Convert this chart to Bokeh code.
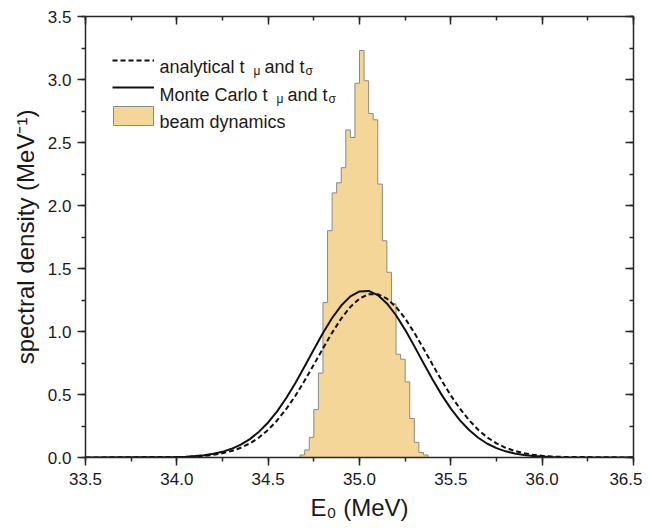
from bokeh.plotting import figure
from bokeh.models import (Range1d, LinearAxis, SingleIntervalTicker, NumeralTickFormatter,
                          Legend, LegendItem, Label, BoxAnnotation)
from bokeh.embed import file_html
from bokeh.resources import INLINE

# ---------------- data ----------------
# beam dynamics histogram: left bin edges (MeV), bin width, spectral density (MeV^-1)
bin_left = [34.675, 34.700, 34.725, 34.750, 34.775, 34.800, 34.825, 34.850, 34.875, 34.900,
            34.925, 34.950, 34.975, 35.000, 35.025, 35.050, 35.075, 35.100, 35.125, 35.150,
            35.175, 35.200, 35.225, 35.250, 35.275, 35.300, 35.325, 35.350]
bin_width = 0.025
hist_density = [0.02, 0.06, 0.16, 0.38, 0.67, 1.23, 1.80, 2.10, 2.18, 2.30,
                2.60, 2.54, 2.97, 3.23, 2.99, 2.73, 2.68, 2.17, 1.72, 1.47,
                1.22, 0.82, 0.78, 0.60, 0.31, 0.12, 0.04, 0.02]

# Monte Carlo t_mu and t_sigma (solid)
mc_energy = [33.50, 34.00, 34.05, 34.10, 34.15, 34.20, 34.25, 34.30, 34.35, 34.40, 34.45,
             34.50, 34.55, 34.60, 34.65, 34.70, 34.75, 34.80, 34.85, 34.90, 34.95,
             35.00, 35.05, 35.10, 35.15, 35.20, 35.25, 35.30, 35.35, 35.40, 35.45,
             35.50, 35.55, 35.60, 35.65, 35.70, 35.75, 35.80, 35.85, 35.90, 35.95,
             36.00, 36.05, 36.10, 36.50]
mc_density = [0.000, 0.004, 0.006, 0.011, 0.018, 0.029, 0.045, 0.069, 0.102, 0.146, 0.205,
              0.278, 0.368, 0.474, 0.594, 0.724, 0.857, 0.988, 1.107, 1.206, 1.279,
              1.318, 1.322, 1.289, 1.223, 1.129, 1.013, 0.884, 0.750, 0.619, 0.497,
              0.388, 0.295, 0.218, 0.157, 0.109, 0.074, 0.049, 0.032, 0.020, 0.012,
              0.007, 0.004, 0.002, 0.000]

# analytical t_mu and t_sigma (dashed)
an_energy = [33.50, 34.05, 34.10, 34.15, 34.20, 34.25, 34.30, 34.35, 34.40, 34.45, 34.50,
             34.55, 34.60, 34.65, 34.70, 34.75, 34.80, 34.85, 34.90, 34.95, 35.00,
             35.05, 35.10, 35.15, 35.20, 35.25, 35.30, 35.35, 35.40, 35.45, 35.50,
             35.55, 35.60, 35.65, 35.70, 35.75, 35.80, 35.85, 35.90, 35.95, 36.00,
             36.05, 36.10, 36.50]
an_density = [0.000, 0.005, 0.008, 0.013, 0.021, 0.034, 0.052, 0.077, 0.112, 0.159, 0.220,
              0.296, 0.387, 0.492, 0.611, 0.737, 0.866, 0.990, 1.103, 1.195, 1.261,
              1.296, 1.296, 1.261, 1.195, 1.103, 0.990, 0.866, 0.737, 0.611, 0.492,
              0.387, 0.296, 0.220, 0.159, 0.112, 0.077, 0.052, 0.034, 0.021, 0.013,
              0.008, 0.005, 0.000]

x_limits = [33.5, 36.5]
y_limits = [0.0, 3.5]
tick_interval = 0.5

# ---------------- style ----------------
FONT = "Liberation Sans"
INK = "#1a1a1a"
AXIS = "#262626"
HIST_FILL = "#F3D698"
HIST_LINE = "#8d8a82"

p = figure(frame_width=548, frame_height=441,
           x_range=Range1d(*x_limits), y_range=Range1d(*y_limits),
           output_backend="svg", toolbar_location=None,
           min_border_left=85, min_border_right=9, min_border_top=16, min_border_bottom=63,
           x_axis_label="E\u2080 (MeV)", y_axis_label="spectral density (MeV\u207b\u00b9)")
p.xgrid.visible = False
p.ygrid.visible = False
p.outline_line_color = None
p.background_fill_color = "white"
p.border_fill_color = "white"

# histogram: one filled step area + step outline
bin_right = [b + bin_width for b in bin_left]
step_x = [bin_left[0]] + bin_left + [bin_right[-1]]
step_y = [0.0] + hist_density + [0.0]
p.varea_step(x=step_x, y1=[0.0] * len(step_x), y2=step_y, step_mode="after",
             fill_color=HIST_FILL)
p.step(x=step_x, y=step_y, mode="after", line_color=HIST_LINE, line_width=1)

r_an = p.line(an_energy, an_density, line_color="#111111", line_width=2, line_dash="5 3")
r_mc = p.line(mc_energy, mc_density, line_color="#111111", line_width=2)
r_blank = p.quad(left=[], right=[], bottom=[], top=[], fill_alpha=0, line_alpha=0)

# ---------------- axes ----------------
def style_axis(ax, outward, labels=True):
    ax.ticker = SingleIntervalTicker(interval=tick_interval, num_minor_ticks=2)
    ax.axis_line_color = AXIS
    ax.axis_line_width = 1.5
    ax.major_tick_line_color = AXIS
    ax.minor_tick_line_color = AXIS
    ax.major_tick_line_width = 1.5
    ax.minor_tick_line_width = 1.5
    if outward:
        ax.major_tick_out, ax.major_tick_in = 8, 0
        ax.minor_tick_out, ax.minor_tick_in = 4, 0
    else:
        ax.major_tick_out, ax.major_tick_in = 0, 8
        ax.minor_tick_out, ax.minor_tick_in = 0, 4
    if labels:
        ax.formatter = NumeralTickFormatter(format="0.0")
        ax.major_label_text_font = FONT
        ax.major_label_text_font_size = "17px"
        ax.major_label_text_color = INK
        ax.axis_label_text_font = FONT
        ax.axis_label_text_font_size = "24px"
        ax.axis_label_text_font_style = "normal"
        ax.axis_label_text_color = INK
    else:
        ax.major_label_text_font_size = "0px"
        ax.major_label_text_color = None
        ax.major_label_standoff = 0

xb = p.below[0]
yl = p.left[0]
style_axis(xb, True)
style_axis(yl, True)
xb.major_label_standoff = 7
xb.axis_label_standoff = 6
yl.major_label_standoff = 6
yl.axis_label_standoff = 6

xt = LinearAxis()
style_axis(xt, False, labels=False)
p.add_layout(xt, "above")
yr = LinearAxis()
style_axis(yr, False, labels=False)
p.add_layout(yr, "right")

# ---------------- legend ----------------
LEG_X, LEG_BOTTOM = 27, 333
legend = Legend(items=[LegendItem(label=" ", renderers=[r_an]),
                       LegendItem(label=" ", renderers=[r_mc]),
                       LegendItem(label=" ", renderers=[r_blank])],
                location=(LEG_X, LEG_BOTTOM), orientation="vertical",
                glyph_width=42, glyph_height=20, label_height=20, label_width=10,
                label_standoff=6, spacing=7, padding=0, margin=0,
                label_text_font_size="10px",
                border_line_alpha=0, background_fill_alpha=0)
p.add_layout(legend)

p.add_layout(BoxAnnotation(left=28, right=68, bottom=332, top=351,
                           left_units="screen", right_units="screen",
                           top_units="screen", bottom_units="screen",
                           fill_color=HIST_FILL, fill_alpha=1,
                           line_color=HIST_LINE, line_width=1, line_alpha=1))

ARIAL = {'a': 556, 'n': 556, 'l': 222, 'y': 500, 't': 278, 'i': 222, 'c': 500, ' ': 278,
         'M': 833, 'o': 556, 'e': 556, 'C': 722, 'r': 333, 'd': 556, 'b': 556, 'm': 833,
         's': 500}

def text_w(s, size):
    return sum(ARIAL[ch] for ch in s) * size / 1000.0

LEG_FS, SUB_FS = 18, 12
TX = 74
row_base = [391, 363, 336]   # baselines, px above frame bottom

def lab(x, y, text, size):
    p.add_layout(Label(x=x, y=y, x_units="screen", y_units="screen", text=text,
                       text_font=FONT, text_font_size=f"{size}px", text_color=INK,
                       text_align="left", text_baseline="alphabetic"))

legend_rows = [("analytical t", "\u03bc", "and t", "\u03c3"),
               ("Monte Carlo t", "\u03bc", "and t", "\u03c3")]
for (main, sub1, mid, sub2), yb in zip(legend_rows, row_base[:2]):
    lab(TX, yb, main, LEG_FS)
    x_sub1 = TX + text_w(main, LEG_FS) + 9
    lab(x_sub1, yb - 4, sub1, SUB_FS)
    x_mid = x_sub1 + 11
    lab(x_mid, yb, mid, LEG_FS)
    x_sub2 = x_mid + text_w(mid, LEG_FS) + 1
    lab(x_sub2, yb - 4, sub2, SUB_FS)
lab(TX, row_base[2], "beam dynamics", LEG_FS)

open("out.html", "w").write(file_html(p, INLINE))
